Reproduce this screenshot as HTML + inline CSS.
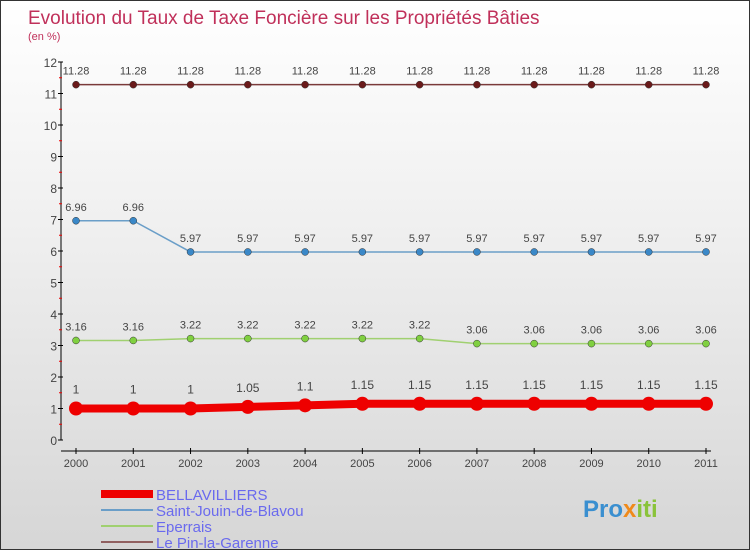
<!DOCTYPE html>
<html><head><meta charset="utf-8"><style>
body{margin:0}
#c{width:750px;height:550px;position:relative;overflow:hidden;background:linear-gradient(#fff 0%,#f0f0f0 40%,#d6d6d6 100%);border:1px solid #333;box-sizing:border-box;font-family:"Liberation Sans",sans-serif}
</style></head><body>
<div id="c">
<svg id="s" width="750" height="550" style="position:absolute;left:0;top:0">
<text x="27" y="23" font-size="19" fill="#c0305a">Evolution du Taux de Taxe Foncière sur les Propriétés Bâties</text>
<text x="27" y="39" font-size="11" fill="#c0305a">(en %)</text>
<g id="axes"></g><g id="series"></g><g id="legend"></g>
<text x="582" y="516" font-size="24" font-weight="bold" fill="#3a8fd0">Pro<tspan fill="#f08a1a">x</tspan><tspan fill="#8ac33a">iti</tspan></text>
</svg>
</div>
<script>
const years=[2000,2001,2002,2003,2004,2005,2006,2007,2008,2009,2010,2011];
const yTicks=[0,1,2,3,4,5,6,7,8,9,10,11,12];
const bellavilliers=[1,1,1,1.05,1.1,1.15,1.15,1.15,1.15,1.15,1.15,1.15];
const saintJouin=[6.96,6.96,5.97,5.97,5.97,5.97,5.97,5.97,5.97,5.97,5.97,5.97];
const eperrais=[3.16,3.16,3.22,3.22,3.22,3.22,3.22,3.06,3.06,3.06,3.06,3.06];
const lePin=[11.28,11.28,11.28,11.28,11.28,11.28,11.28,11.28,11.28,11.28,11.28,11.28];
const seriesNames=["BELLAVILLIERS","Saint-Jouin-de-Blavou","Eperrais","Le Pin-la-Garenne"];
const NS="http://www.w3.org/2000/svg";
const X=i=>75+i*(630/(years.length-1));
const Y=v=>439-v*31.5;
function mk(t,a,p){const e=document.createElementNS(NS,t);for(const k in a)e.setAttribute(k,a[k]);p.appendChild(e);return e;}
const ax=document.getElementById('axes');
let l=mk('line',{x1:60,y1:Y(12),x2:60,y2:Y(0),stroke:'#000'},ax);


l=mk('line',{x1:60,y1:450,x2:710,y2:450,stroke:'#000'},ax);


yTicks.forEach(v=>{
 mk('line',{x1:57,y1:Y(v),x2:62,y2:Y(v),stroke:'#000'},ax);
 if(v<12) mk('line',{x1:58,y1:Y(v+0.5),x2:61,y2:Y(v+0.5),stroke:'#e00'},ax);
 const t=mk('text',{x:56,y:Y(v)+5,'font-size':12,'text-anchor':'end',fill:'#444'},ax);
 t.textContent=v;
 
 
});
years.forEach((yr,i)=>{
 mk('line',{x1:X(i),y1:447,x2:X(i),y2:453,stroke:'#000'},ax);
 const t=mk('text',{x:X(i),y:466,'font-size':11,'text-anchor':'middle',fill:'#444'},ax);
 t.textContent=yr;
 
 
});
const sg=document.getElementById('series');
function draw(vals,line,dot,lw,r,name,fs){
 const g=mk('g',{},sg);
 
 
 mk('polyline',{points:vals.map((v,i)=>X(i)+','+Y(v)).join(' '),fill:'none',stroke:line,'stroke-width':lw},g);
 vals.forEach((v,i)=>{
  const c=mk('circle',{cx:X(i),cy:Y(v),r:r,fill:dot,stroke:r>5?'none':'#333','stroke-width':0.5},g);
  
  
  const t=mk('text',{x:X(i),y:Y(v)-(r>5?15:10),'font-size':fs,'text-anchor':'middle',fill:'#444'},g);
  t.textContent=v;
 });
}
draw(lePin,'#7a3a3a','#6a1a1a',1.5,3.5,'series-le-pin',11);
draw(saintJouin,'#6a9ec8','#3a88c8',1.5,3.5,'series-saint-jouin',11);
draw(eperrais,'#a0d070','#80d040',1.5,3.5,'series-eperrais',11);
draw(bellavilliers,'#ee0000','#ee0000',8,7,'series-bellavilliers',12);
const lg=document.getElementById('legend');
const lc=['#ee0000','#6a9ec8','#a0d070','#906060'];
const lw=[8,2,2,2];
seriesNames.forEach((n,i)=>{
 const y=493+i*16;
 const g=mk('g',{},lg);
 
 
 mk('line',{x1:100,y1:y,x2:152,y2:y,stroke:lc[i],'stroke-width':lw[i]},g);
 const t=mk('text',{x:155,y:y+6,'font-size':15,fill:'#6a6aee'},g);
 t.textContent=n;
});
</script>
</body></html>
